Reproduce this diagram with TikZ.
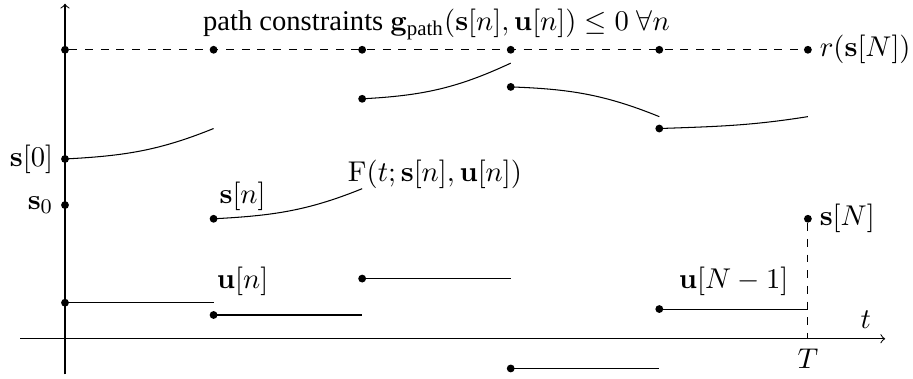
\documentclass[tikz,border=0pt,11pt]{standalone}
\usepackage{amsmath,amssymb}
\usepackage[no-math]{fontspec}
\setmainfont{Liberation Serif}
\usetikzlibrary{arrows, positioning, calc}
\tikzset{
  dot/.style={
    circle,
    fill=black,
    inner sep=0pt,
    minimum size=3pt
  },
  traj/.style={
    line width=0.4pt
  },
  guide/.style={
    dashed
  },
  axis/.style={
    ->
  }
}
\begin{document}
\begin{tikzpicture}[x=2cm, y=1cm]
  \useasboundingbox (-0.4375,-0.54) rectangle (5.7075,4.56);

  % --- AXES ---
  \coordinate (xstart) at (-0.30,0);
  \coordinate (xend) at (5.52,0);
  \coordinate (ystart) at (0,-0.48);
  \coordinate (yend) at (0,4.51);
  \draw[axis] (xstart) -- (xend);
  \draw[axis] (ystart) -- (yend);
  \node (t_lbl) at (5.39,0.26) {$t$};

  % --- PATH CONSTRAINTS ---
  \foreach \i in {0,...,5}
    \node (g\i) [dot] at (\i,3.89) {};
  \draw[guide] (g0) -- (g5);
  \node (pc_lbl) at (2.5,4.23) {path constraints $\mathbf{g}_{\text{path}}(\mathbf{s}[n],\mathbf{u}[n])\leq 0\;\forall n$};
  \node (r_lbl) [right=-1pt of g5] {$r(\mathbf{s}[N])$};

  % --- STATE TRAJECTORY ---
  \node (sa0) [dot] at (0,2.42) {};
  \node (sa1) [dot] at (1,1.615) {};
  \node (sa2) [dot] at (2,3.23) {};
  \node (sa3) [dot] at (3,3.39) {};
  \node (sa4) [dot] at (4,2.83) {};
  \coordinate (sb0) at (1,2.83);
  \coordinate (sb1) at (2,2.02);
  \coordinate (sb2) at (3,3.71);
  \coordinate (sb3) at (4,2.99);
  \coordinate (sb4) at (5,2.99);
  \draw[traj] (sa0.center) to[out=3, in=202] (sb0);
  \draw[traj] (sa1.center) to[out=3, in=202] (sb1);
  \draw[traj] (sa2.center) to[out=3, in=205] (sb2);
  \draw[traj] (sa3.center) to[out=-2, in=158] (sb3);
  \draw[traj] (sa4.center) to[out=2, in=189] (sb4);
  \node (sinit) [dot] at (0,1.80) {};

  \node (s0_lbl) [left=-1pt of sa0] {$\mathbf{s}[0]$};
  \node (sinit_lbl) [left=-1pt of sinit] {$\mathbf{s}_0$};
  \node (sn_lbl) at (1.195,1.92) {$\mathbf{s}[n]$};
  \node (F_lbl) at (2.49,2.21) {$\mathrm{F}(t;\mathbf{s}[n],\mathbf{u}[n])$};

  % --- CONTROLS ---
  \foreach \i/\y in {0/0.485, 1/0.32, 2/0.81, 3/-0.40, 4/0.40} {
    \node (u\i) [dot] at (\i,\y) {};
    \coordinate (ue\i) at (\i+1,\y);
    \draw[traj] (u\i.center) -- (ue\i);
  }
  \node (un_lbl) at (1.195,0.77) {$\mathbf{u}[n]$};
  \node (uN_lbl) at (4.50,0.77) {$\mathbf{u}[N-1]$};

  % --- TERMINAL STATE ---
  \node (sN) [dot] at (5,1.615) {};
  \coordinate (T) at (5,0);
  \draw[guide] (sN) -- (T);
  \node (sN_lbl) [right=-1pt of sN] {$\mathbf{s}[N]$};
  \node (T_lbl) [below=0pt of T] {$T$};

\end{tikzpicture}
\end{document}
